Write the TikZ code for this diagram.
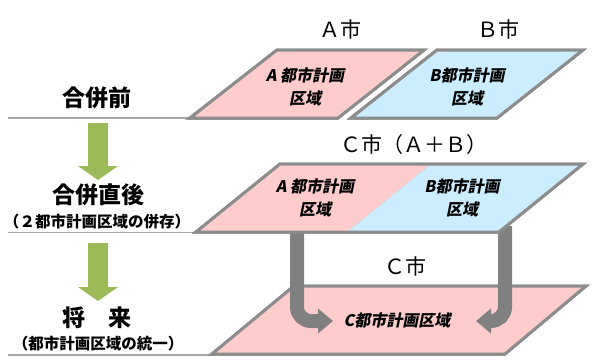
\documentclass[tikz,border=0pt]{standalone}
\usepackage{fontspec}
\setmainfont{Noto Sans CJK JP}
\newfontfamily\cjkit[FakeSlant=0.2]{Noto Sans CJK JP}
\usetikzlibrary{arrows.meta}
\definecolor{pinkfill}{HTML}{FFCCCC}
\definecolor{bluefill}{HTML}{CCECFF}
\definecolor{edgegray}{HTML}{8C8C8C}
\definecolor{shadowgray}{HTML}{808080}
\definecolor{sepgray}{HTML}{A6A6A6}
\definecolor{arrowgreen}{HTML}{9BBB59}
\definecolor{arrowgray}{HTML}{808080}
\begin{document}
\begin{tikzpicture}[x=1pt,y=-1pt,
  plate/.style={draw=edgegray, line width=3pt, line join=miter},
  shadowplate/.style={fill=shadowgray, draw=shadowgray, line width=3pt, line join=miter},
  sepline/.style={draw=sepgray, line width=1.5pt},
  bigtxt/.style={font=\fontsize{21}{21}\selectfont, inner sep=0pt},
  lbl/.style={font=\bfseries\fontsize{23}{23}\selectfont, inner sep=0pt},
  sublbl/.style={font=\bfseries\fontsize{15.5}{16}\selectfont, inner sep=0pt},
  area/.style={font=\cjkit\bfseries\fontsize{16}{22.5}\selectfont, align=center, inner sep=0pt},
  greenarrow/.style={fill=arrowgreen},
  grayarrow/.style={draw=arrowgray, line width=14pt, rounded corners=14pt, -{Triangle[length=15pt,width=24pt]}}
]
\useasboundingbox (0,0) rectangle (599,359);

% separator lines
\coordinate (s1a) at (8,118);  \coordinate (s1b) at (195,118);
\coordinate (s2a) at (8,232.5);\coordinate (s2b) at (200,232.5);
\coordinate (s3a) at (8,355);  \coordinate (s3b) at (215,355);
\draw[sepline] (s1a) -- (s1b);
\draw[sepline] (s2a) -- (s2b);
\draw[sepline] (s3a) -- (s3b);

% ---------- bottom layer (C) ----------
\coordinate (c1) at (212,354); \coordinate (c2) at (294,286);
\coordinate (c3) at (586,286); \coordinate (c4) at (505,354);
\path[shadowplate, shift={(4,6)}] (c1) -- (c2) -- (c3) -- (c4) -- cycle;
\path[plate, fill=pinkfill] (c1) -- (c2) -- (c3) -- (c4) -- cycle;

% ---------- gray arrows ----------
\coordinate (la0) at (297,226); \coordinate (la1) at (333,321);
\coordinate (ra0) at (505,226); \coordinate (ra1) at (476,321);
\draw[grayarrow] (la0) |- (la1);
\draw[grayarrow] (ra0) |- (ra1);

% ---------- middle layer (A+B) ----------
\coordinate (m1) at (196,232); \coordinate (m2) at (280,164);
\coordinate (m3) at (583,164); \coordinate (m4) at (499,232);
\coordinate (mt) at (431,164); \coordinate (mb) at (347,232);
\path[shadowplate, shift={(4,6)}] (m1) -- (m2) -- (m3) -- (m4) -- cycle;
\fill[pinkfill] (m1) -- (m2) -- (mt) -- (mb) -- cycle;
\fill[bluefill] (mb) -- (mt) -- (m3) -- (m4) -- cycle;
\draw[plate] (m1) -- (m2) -- (m3) -- (m4) -- cycle;

% ---------- top layer A ----------
\coordinate (a1) at (190,118); \coordinate (a2) at (277,50);
\coordinate (a3) at (424,50);  \coordinate (a4) at (338,118);
\path[shadowplate, shift={(4,6)}] (a1) -- (a2) -- (a3) -- (a4) -- cycle;
\path[plate, fill=pinkfill] (a1) -- (a2) -- (a3) -- (a4) -- cycle;

% ---------- top layer B ----------
\coordinate (b1) at (351,118); \coordinate (b2) at (437,50);
\coordinate (b3) at (583,50);  \coordinate (b4) at (497,118);
\path[shadowplate, shift={(4,6)}] (b1) -- (b2) -- (b3) -- (b4) -- cycle;
\path[plate, fill=bluefill] (b1) -- (b2) -- (b3) -- (b4) -- cycle;

% ---------- green arrows ----------
\fill[greenarrow] (88,123) -- (108,123) -- (108,166) -- (118,166) -- (98,180) -- (78,166) -- (88,166) -- cycle;
\fill[greenarrow] (88,243) -- (108,243) -- (108,287) -- (118,287) -- (98,301) -- (78,287) -- (88,287) -- cycle;

% ---------- texts ----------
\node[bigtxt] (tA) at (340,29) {Ａ市};
\node[bigtxt] (tB) at (498,29) {Ｂ市};
\node[bigtxt] (tAB) at (414,145) {Ｃ市（Ａ＋Ｂ）};
\node[bigtxt] (tC) at (405,266) {Ｃ市};

\node[lbl] (l1) at (97,98) {合併前};
\node[lbl] (l2) at (98,195) {合併直後};
\node[sublbl] (l2s) at (97,222) {（２都市計画区域の併存）};
\node[lbl] (l3) at (97,318) {将　来};
\node[sublbl] (l3s) at (98,344) {（都市計画区域の統一）};

\node[area] (pA) at (305,87) {A 都市計画\\区域};
\node[area] (pB) at (467,87) {B都市計画\\区域};
\node[area] (qA) at (315,198) {A 都市計画\\区域};
\node[area] (qB) at (462,198) {B都市計画\\区域};
\node[area] (pC) at (397,320) {C都市計画区域};
\end{tikzpicture}
\end{document}
